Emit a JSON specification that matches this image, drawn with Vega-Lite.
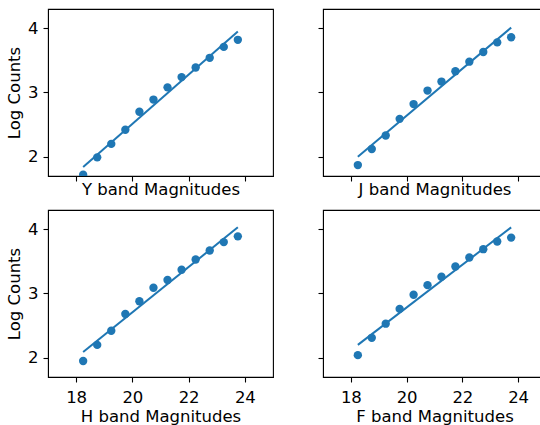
{
  "$schema": "https://vega.github.io/schema/vega-lite/v6.json",
  "padding": {"left": 5, "top": 8, "right": 0, "bottom": 0},
  "config": {
    "font": "DejaVu Sans",
    "view": {"stroke": "black", "strokeWidth": 1.1},
    "axis": {
      "grid": false,
      "domainColor": "black",
      "tickColor": "black",
      "tickSize": 5,
      "tickWidth": 1.1,
      "labelColor": "black",
      "titleColor": "black",
      "labelFont": "DejaVu Sans",
      "titleFont": "DejaVu Sans",
      "labelFontSize": 16.5,
      "titleFontSize": 16.5,
      "titleFontWeight": "normal",
      "labelPadding": 5,
      "format": "d"
    }
  },
  "spacing": {"row": 10, "column": 42},
  "datasets": {
    "pts": [
      {"band": "Y", "mag": 18.25, "logc": 1.72},
      {"band": "Y", "mag": 18.75, "logc": 1.99},
      {"band": "Y", "mag": 19.25, "logc": 2.20},
      {"band": "Y", "mag": 19.75, "logc": 2.42},
      {"band": "Y", "mag": 20.25, "logc": 2.70},
      {"band": "Y", "mag": 20.75, "logc": 2.89},
      {"band": "Y", "mag": 21.25, "logc": 3.08},
      {"band": "Y", "mag": 21.75, "logc": 3.24},
      {"band": "Y", "mag": 22.25, "logc": 3.39},
      {"band": "Y", "mag": 22.75, "logc": 3.54},
      {"band": "Y", "mag": 23.25, "logc": 3.71},
      {"band": "Y", "mag": 23.75, "logc": 3.82},
      {"band": "J", "mag": 18.25, "logc": 1.87},
      {"band": "J", "mag": 18.75, "logc": 2.12},
      {"band": "J", "mag": 19.25, "logc": 2.33},
      {"band": "J", "mag": 19.75, "logc": 2.59},
      {"band": "J", "mag": 20.25, "logc": 2.82},
      {"band": "J", "mag": 20.75, "logc": 3.03},
      {"band": "J", "mag": 21.25, "logc": 3.17},
      {"band": "J", "mag": 21.75, "logc": 3.33},
      {"band": "J", "mag": 22.25, "logc": 3.48},
      {"band": "J", "mag": 22.75, "logc": 3.63},
      {"band": "J", "mag": 23.25, "logc": 3.78},
      {"band": "J", "mag": 23.75, "logc": 3.86},
      {"band": "H", "mag": 18.25, "logc": 1.95},
      {"band": "H", "mag": 18.75, "logc": 2.20},
      {"band": "H", "mag": 19.25, "logc": 2.42},
      {"band": "H", "mag": 19.75, "logc": 2.68},
      {"band": "H", "mag": 20.25, "logc": 2.88},
      {"band": "H", "mag": 20.75, "logc": 3.09},
      {"band": "H", "mag": 21.25, "logc": 3.21},
      {"band": "H", "mag": 21.75, "logc": 3.37},
      {"band": "H", "mag": 22.25, "logc": 3.53},
      {"band": "H", "mag": 22.75, "logc": 3.67},
      {"band": "H", "mag": 23.25, "logc": 3.80},
      {"band": "H", "mag": 23.75, "logc": 3.89},
      {"band": "F", "mag": 18.25, "logc": 2.04},
      {"band": "F", "mag": 18.75, "logc": 2.31},
      {"band": "F", "mag": 19.25, "logc": 2.53},
      {"band": "F", "mag": 19.75, "logc": 2.76},
      {"band": "F", "mag": 20.25, "logc": 2.98},
      {"band": "F", "mag": 20.75, "logc": 3.13},
      {"band": "F", "mag": 21.25, "logc": 3.26},
      {"band": "F", "mag": 21.75, "logc": 3.42},
      {"band": "F", "mag": 22.25, "logc": 3.56},
      {"band": "F", "mag": 22.75, "logc": 3.69},
      {"band": "F", "mag": 23.25, "logc": 3.81},
      {"band": "F", "mag": 23.75, "logc": 3.87}
    ],
    "fit": [
      {"band": "Y", "mag": 18.25, "logc": 1.84},
      {"band": "Y", "mag": 23.75, "logc": 3.95},
      {"band": "J", "mag": 18.25, "logc": 2.00},
      {"band": "J", "mag": 23.75, "logc": 4.01},
      {"band": "H", "mag": 18.25, "logc": 2.09},
      {"band": "H", "mag": 23.75, "logc": 4.03},
      {"band": "F", "mag": 18.25, "logc": 2.20},
      {"band": "F", "mag": 23.75, "logc": 4.03}
    ]
  },
  "columns": 2,
  "concat": [
    {
      "width": 225, "height": 167,
      "layer": [
        {
          "data": {"name": "pts"},
          "transform": [{"filter": "datum.band === 'Y'"}],
          "mark": {"type": "circle", "size": 70, "opacity": 1, "color": "#1f77b4", "clip": true},
          "encoding": {
            "x": {"field": "mag", "type": "quantitative", "scale": {"domain": [17, 25], "nice": false, "zero": false},
                  "axis": {"values": [18, 20, 22, 24], "labels": false, "title": "Y band Magnitudes", "titlePadding": 0}},
            "y": {"field": "logc", "type": "quantitative", "scale": {"domain": [1.7, 4.3], "nice": false, "zero": false},
                  "axis": {"values": [2, 3, 4], "title": "Log Counts", "titlePadding": 5}}
          }
        },
        {
          "data": {"name": "fit"},
          "transform": [{"filter": "datum.band === 'Y'"}],
          "mark": {"type": "line", "color": "#1f77b4", "strokeWidth": 2},
          "encoding": {
            "x": {"field": "mag", "type": "quantitative"},
            "y": {"field": "logc", "type": "quantitative"}
          }
        }
      ]
    },
    {
      "width": 223, "height": 167,
      "layer": [
        {
          "data": {"name": "pts"},
          "transform": [{"filter": "datum.band === 'J'"}],
          "mark": {"type": "circle", "size": 70, "opacity": 1, "color": "#1f77b4", "clip": true},
          "encoding": {
            "x": {"field": "mag", "type": "quantitative", "scale": {"domain": [17, 25], "nice": false, "zero": false},
                  "axis": {"values": [18, 20, 22, 24], "labels": false, "title": "J band Magnitudes", "titlePadding": 0}},
            "y": {"field": "logc", "type": "quantitative", "scale": {"domain": [1.7, 4.3], "nice": false, "zero": false},
                  "axis": {"values": [2, 3, 4], "labels": false, "title": null}}
          }
        },
        {
          "data": {"name": "fit"},
          "transform": [{"filter": "datum.band === 'J'"}],
          "mark": {"type": "line", "color": "#1f77b4", "strokeWidth": 2},
          "encoding": {
            "x": {"field": "mag", "type": "quantitative"},
            "y": {"field": "logc", "type": "quantitative"}
          }
        }
      ]
    },
    {
      "width": 225, "height": 167,
      "layer": [
        {
          "data": {"name": "pts"},
          "transform": [{"filter": "datum.band === 'H'"}],
          "mark": {"type": "circle", "size": 70, "opacity": 1, "color": "#1f77b4", "clip": true},
          "encoding": {
            "x": {"field": "mag", "type": "quantitative", "scale": {"domain": [17, 25], "nice": false, "zero": false},
                  "axis": {"values": [18, 20, 22, 24], "title": "H band Magnitudes", "labelPadding": 7, "titlePadding": 3}},
            "y": {"field": "logc", "type": "quantitative", "scale": {"domain": [1.7, 4.3], "nice": false, "zero": false},
                  "axis": {"values": [2, 3, 4], "title": "Log Counts", "titlePadding": 5}}
          }
        },
        {
          "data": {"name": "fit"},
          "transform": [{"filter": "datum.band === 'H'"}],
          "mark": {"type": "line", "color": "#1f77b4", "strokeWidth": 2},
          "encoding": {
            "x": {"field": "mag", "type": "quantitative"},
            "y": {"field": "logc", "type": "quantitative"}
          }
        }
      ]
    },
    {
      "width": 223, "height": 167,
      "layer": [
        {
          "data": {"name": "pts"},
          "transform": [{"filter": "datum.band === 'F'"}],
          "mark": {"type": "circle", "size": 70, "opacity": 1, "color": "#1f77b4", "clip": true},
          "encoding": {
            "x": {"field": "mag", "type": "quantitative", "scale": {"domain": [17, 25], "nice": false, "zero": false},
                  "axis": {"values": [18, 20, 22, 24], "title": "F band Magnitudes", "labelPadding": 7, "titlePadding": 3}},
            "y": {"field": "logc", "type": "quantitative", "scale": {"domain": [1.7, 4.3], "nice": false, "zero": false},
                  "axis": {"values": [2, 3, 4], "labels": false, "title": null}}
          }
        },
        {
          "data": {"name": "fit"},
          "transform": [{"filter": "datum.band === 'F'"}],
          "mark": {"type": "line", "color": "#1f77b4", "strokeWidth": 2},
          "encoding": {
            "x": {"field": "mag", "type": "quantitative"},
            "y": {"field": "logc", "type": "quantitative"}
          }
        }
      ]
    }
  ]
}
